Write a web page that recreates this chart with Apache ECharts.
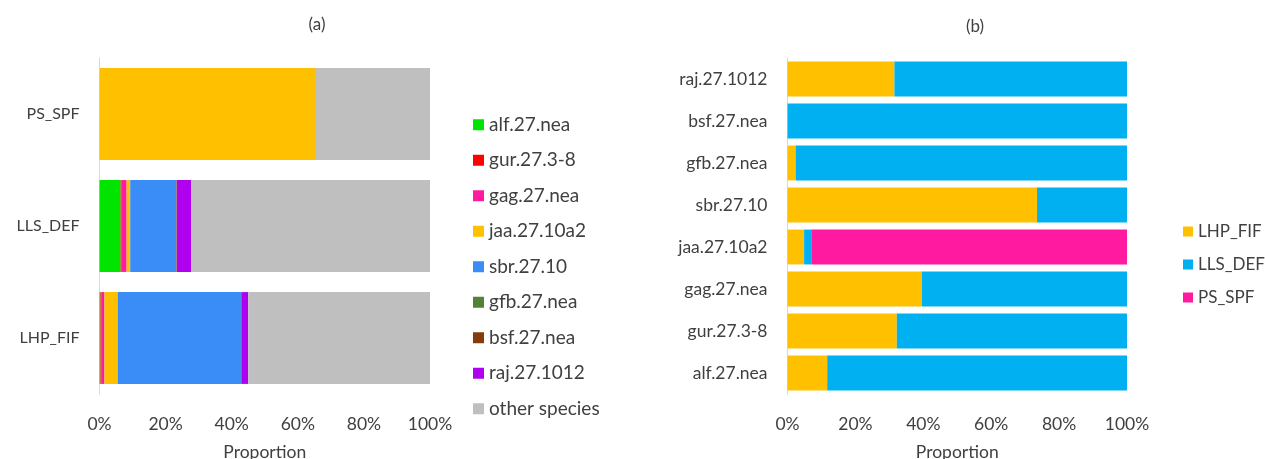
<!DOCTYPE html>
<html>
<head>
<meta charset="utf-8">
<script src="https://cdn.jsdelivr.net/npm/echarts@6/dist/echarts.min.js"></script>
<style>
  html, body { margin: 0; padding: 0; background: #fff; }
  #chart { width: 1265px; height: 459px; }
</style>
</head>
<body>
<div id="chart"></div>
<script>
// Panel (a): species composition of catch per fleet (percent)
const fleets = ['LHP_FIF', 'LLS_DEF', 'PS_SPF'];          // bottom to top
const species = ['alf.27.nea', 'gur.27.3-8', 'gag.27.nea', 'jaa.27.10a2',
                 'sbr.27.10', 'gfb.27.nea', 'bsf.27.nea', 'raj.27.1012', 'other species'];
const speciesColors = ['#00e400', '#ff0000', '#ff1aa0', '#ffc000',
                       '#3a8cf6', '#548235', '#843c0c', '#b000f0', '#bfbfbf'];
// rows follow `species`, columns follow `fleets`
const alf   = [0.3, 6.4, 0];
const gur   = [0.2, 0.3, 0];
const gag   = [1.0, 1.5, 0];
const jaa   = [4.0, 1.1, 65.5];
const sbr   = [37.3, 13.9, 0];
const gfb   = [0.1, 0.1, 0];
const bsf   = [0.0, 0.1, 0];
const raj   = [2.1, 4.4, 0];
const other = [55.0, 72.2, 34.5];
const speciesValues = [alf, gur, gag, jaa, sbr, gfb, bsf, raj, other];

// Panel (b): share of each stock's catch by fleet (percent)
const stocks = ['alf.27.nea', 'gur.27.3-8', 'gag.27.nea', 'jaa.27.10a2',
                'sbr.27.10', 'gfb.27.nea', 'bsf.27.nea', 'raj.27.1012']; // bottom to top
const fleetNames = ['LHP_FIF', 'LLS_DEF', 'PS_SPF'];
const fleetColors = ['#ffc000', '#00b0f0', '#ff1aa0'];
const lhpFif = [11.7, 32.2, 39.6, 4.9, 73.5, 2.4, 0, 31.5];
const llsDef = [88.3, 67.8, 60.4, 2.1, 26.5, 97.6, 100, 68.5];
const psSpf  = [0, 0, 0, 93.0, 0, 0, 0, 0];
const fleetValues = [lhpFif, llsDef, psSpf];

const percentTicks = [0, 20, 40, 60, 80, 100];

const font = 'Lato, "Open Sans", sans-serif';
const textColor = '#404040';
const axisFontSize = 17.5;

function valueAxis(gridIndex) {
  return {
    type: 'value', gridIndex,
    min: percentTicks[0], max: percentTicks[percentTicks.length - 1],
    interval: percentTicks[1] - percentTicks[0],
    axisLine: { show: false }, axisTick: { show: false }, splitLine: { show: false },
    axisLabel: { formatter: '{value}%', color: textColor, fontSize: axisFontSize, fontFamily: font, margin: 21 },
    name: 'Proportion', nameLocation: 'middle', nameGap: 49,
    nameTextStyle: { color: textColor, fontSize: axisFontSize, fontFamily: font }
  };
}

function categoryAxis(gridIndex, data, fontSize) {
  return {
    type: 'category', gridIndex, data,
    axisLine: { show: true, lineStyle: { color: '#d9d9d9', width: 1 } },
    axisTick: { show: false },
    axisLabel: { color: textColor, fontSize, fontFamily: font, margin: 20 }
  };
}

const series = [];
species.forEach((name, i) => {
  series.push({
    name, type: 'bar', stack: 'a', xAxisIndex: 0, yAxisIndex: 0,
    barCategoryGap: '18%',
    itemStyle: { color: speciesColors[i] },
    data: speciesValues[i]
  });
});
fleetNames.forEach((name, i) => {
  series.push({
    name, type: 'bar', stack: 'b', xAxisIndex: 1, yAxisIndex: 1,
    barCategoryGap: '17%',
    itemStyle: { color: fleetColors[i] },
    data: fleetValues[i]
  });
});

const chart = echarts.init(document.getElementById('chart'), null, { renderer: 'canvas' });
chart.setOption({
  animation: false,
  backgroundColor: '#ffffff',
  textStyle: { fontFamily: font },
  title: [
    { text: '(a)', left: 312, top: 11, textAlign: 'center',
      textStyle: { fontSize: 17, fontWeight: 'normal', color: textColor, fontFamily: font } },
    { text: '(b)', left: 970, top: 13, textAlign: 'center',
      textStyle: { fontSize: 17, fontWeight: 'normal', color: textColor, fontFamily: font } }
  ],
  grid: [
    { left: 99.5, top: 58, width: 330.5, height: 336, outerBoundsMode: 'none' },
    { left: 787.5, top: 58, width: 339.5, height: 336, outerBoundsMode: 'none' }
  ],
  xAxis: [valueAxis(0), valueAxis(1)],
  yAxis: [categoryAxis(0, fleets, 16), categoryAxis(1, stocks, axisFontSize)],
  legend: [
    {
      data: species, orient: 'vertical', left: 468, top: 110,
      icon: 'rect', itemWidth: 11, itemHeight: 11, itemGap: 16,
      selectedMode: false,
      textStyle: { color: textColor, fontSize: 19, lineHeight: 19.5, fontFamily: font }
    },
    {
      data: fleetNames, orient: 'vertical', left: 1178, top: 218,
      icon: 'rect', itemWidth: 10, itemHeight: 10, itemGap: 16,
      selectedMode: false,
      textStyle: { color: textColor, fontSize: 17, lineHeight: 17, fontFamily: font }
    }
  ],
  series
});
</script>
</body>
</html>
